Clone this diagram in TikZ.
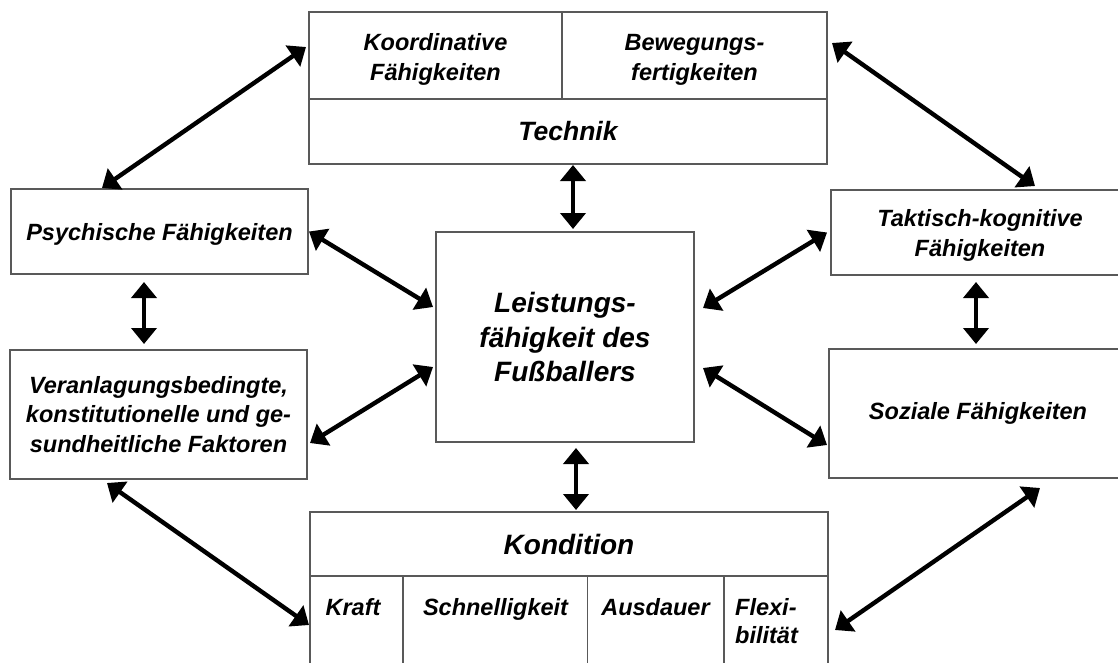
\documentclass[tikz,border=0pt]{standalone}
\usepackage{fontspec}
\setmainfont{Liberation Sans}
\usetikzlibrary{arrows.meta}

\tikzset{
  box/.style={draw=black!65, line width=1.3pt, rectangle, inner sep=0pt, outer sep=0pt,
              align=center, font=\fontsize{23.5}{29.5}\selectfont\bfseries\itshape},
  bigtext/.style={font=\fontsize{28}{34.5}\selectfont\bfseries\itshape},
  lbl/.style={inner sep=0pt, align=center, font=\fontsize{23.5}{28}\selectfont\bfseries\itshape},
  arr/.style={line width=4.4pt, {Triangle[length=16pt,width=25pt]}-{Triangle[length=16pt,width=25pt]}}
}
% taller first-line strut to push a two-line label slightly down
\newcommand{\lowstrut}[1]{\rule{0pt}{#1}}

\begin{document}
\begin{tikzpicture}[x=1pt, y=-1pt]
  \useasboundingbox (0,0) rectangle (1118,662);
  \clip (0,0) rectangle (1118,662);

  % Technik block
  \node[box, minimum width=253pt, minimum height=87pt] (koord) at (435.5,55.5) {\lowstrut{25pt}Koordinative\\Fähigkeiten};
  \node[box, minimum width=265pt, minimum height=87pt] (beweg) at (694.5,55.5) {\lowstrut{25pt}Bewegungs-\\fertigkeiten};
  \node[box, minimum width=518pt, minimum height=65pt, font=\fontsize{26.5}{30}\selectfont\bfseries\itshape] (technik) at (568,131.5) {Technik};

  % left column
  \node[box, minimum width=297pt, minimum height=85pt] (psych) at (159.5,231.5) {\lowstrut{23pt}Psychische Fähigkeiten};
  \node[box, minimum width=297pt, minimum height=129pt] (veran) at (158.5,414.5) {Veranlagungsbedingte,\\konstitutionelle und ge-\\sundheitliche Faktoren};

  % centre
  \node[box, bigtext, minimum width=258pt, minimum height=210pt] (center) at (565,337) {Leistungs-\\fähigkeit des\\Fußballers};

  % right column
  \node[box, minimum width=298pt, minimum height=85pt] (takt) at (980,232.5) {\lowstrut{23pt}Taktisch-kognitive\\Fähigkeiten};
  \node[box, minimum width=298pt, minimum height=129pt] (sozial) at (978,413.5) {Soziale Fähigkeiten};

  % Kondition block
  \node[box, bigtext, minimum width=518pt, minimum height=64pt] (kond) at (569,544) {Kondition};
  \node[box, minimum width=93pt, minimum height=124pt] (kraft) at (356.5,638) {};
  \node[box, minimum width=184.5pt, minimum height=124pt] (schnell) at (495.25,638) {};
  \node[box, minimum width=136.5pt, minimum height=124pt] (ausdauer) at (655.75,638) {};
  \node[box, minimum width=104pt, minimum height=124pt] (flexi) at (776,638) {};
  \node[lbl, anchor=base] (kraftl) at (353,615) {Kraft};
  \node[lbl, anchor=base] (schnelll) at (495.5,615) {Schnelligkeit};
  \node[lbl, anchor=base] (ausdauerl) at (655.5,615) {Ausdauer};
  \node[lbl, anchor=north west, align=left] (flexil) at (735,598) {Flexi-\\bilität};

  % connectors
  \draw[arr] ([xshift=-3pt,yshift=8.5pt]koord.west) -- ([xshift=-57.5pt,yshift=1pt]psych.north);
  \draw[arr] ([xshift=5pt,yshift=12.5pt]beweg.east) -- ([xshift=55pt,yshift=4pt]takt.north);
  \draw[arr] ([xshift=5pt,yshift=-1pt]technik.south) -- ([xshift=8pt,yshift=3pt]center.north);
  \draw[arr] ([xshift=11pt,yshift=-6pt]center.south) -- ([xshift=7pt,yshift=2pt]kond.north);
  \draw[arr] ([xshift=1pt]psych.east) -- ([xshift=-3pt,yshift=30pt]center.west);
  \draw[arr] ([xshift=3pt,yshift=-28.5pt]veran.east) -- ([xshift=-3pt,yshift=-30pt]center.west);
  \draw[arr] ([xshift=9pt,yshift=29pt]center.east) -- ([xshift=-4pt]takt.west);
  \draw[arr] ([xshift=9pt,yshift=-31pt]center.east) -- ([xshift=-2pt,yshift=-31.5pt]sozial.west);
  \draw[arr] ([xshift=-15.5pt,yshift=-8pt]psych.south) -- ([xshift=-14.5pt,yshift=6pt]veran.north);
  \draw[arr] ([xshift=-4pt,yshift=-7pt]takt.south) -- ([xshift=-2pt,yshift=5pt]sozial.north);
  \draw[arr] ([xshift=-51.5pt,yshift=-4pt]veran.south) -- ([xshift=-1pt,yshift=13pt]kraft.west);
  \draw[arr] ([xshift=62pt,yshift=-10pt]sozial.south) -- ([xshift=7pt,yshift=8pt]flexi.east);
\end{tikzpicture}
\end{document}
